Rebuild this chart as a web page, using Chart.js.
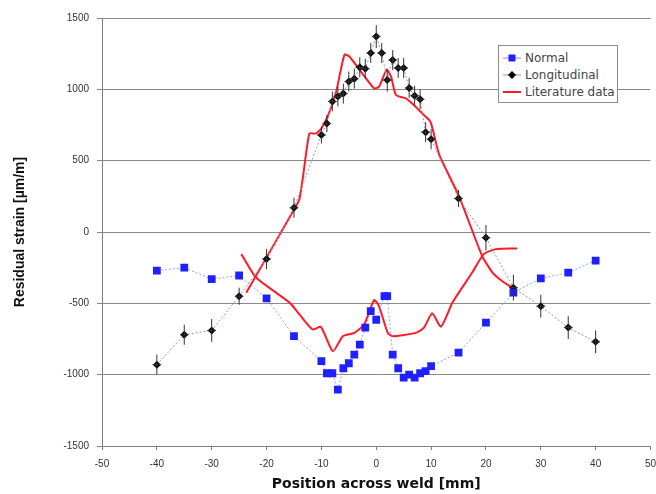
<!DOCTYPE html>
<html>
<head>
<meta charset="utf-8">
<script src="https://cdn.jsdelivr.net/npm/chart.js@4.4.1/dist/chart.umd.min.js"></script>
<style>
  body { margin: 0; background: #fff; }
  #wrap { position: relative; width: 656px; height: 494px; }
  #legend {
    position: absolute; left: 498px; top: 45px; width: 120px; height: 58px;
    box-sizing: border-box; background: #fff; border: 1px solid #8c8c8c;
    font: 12px "DejaVu Sans", sans-serif; color: #444; padding-top: 3px;
  }
  .item { display: flex; align-items: center; height: 17px; white-space: nowrap; }
  .item svg { margin: 0 4px 0 4px; }
</style>
</head>
<body>
<div id="wrap">
  <canvas id="chart" width="656" height="494"></canvas>
  <div id="legend">
    <div class="item">
      <svg width="18" height="10"><line x1="0" y1="5" x2="18" y2="5" stroke="#8d93ff" stroke-width="1"/><rect x="5.5" y="1.5" width="7" height="7" fill="#1f1fff"/></svg>
      <span>Normal</span>
    </div>
    <div class="item">
      <svg width="18" height="10"><line x1="0" y1="5" x2="18" y2="5" stroke="#999" stroke-width="1"/><polygon points="9,1 13,5 9,9 5,5" fill="#000"/></svg>
      <span>Longitudinal</span>
    </div>
    <div class="item">
      <svg width="18" height="10"><line x1="0" y1="5" x2="18" y2="5" stroke="#ff1a2a" stroke-width="2"/></svg>
      <span>Literature data</span>
    </div>
  </div>
</div>
<script>
// Normal strain (blue squares)
const normalX = [-40, -35, -30, -25, -20, -15, -10, -9, -8, -7, -6, -5, -4, -3, -2, -1, 0, 1.5, 2, 3, 4, 5, 6, 7, 8, 9, 10, 15, 20, 25, 30, 35, 40];
const normalY = [-270, -250, -330, -305, -465, -730, -905, -990, -990, -1105, -955, -920, -860, -790, -670, -555, -615, -450, -450, -860, -955, -1020, -1000, -1020, -990, -975, -940, -845, -635, -425, -325, -285, -200];

// Longitudinal strain (black diamonds with error bars)
const longX = [-40, -35, -30, -25, -20, -15, -10, -9, -8, -7, -6, -5, -4, -3, -2, -1, 0, 1, 2, 3, 4, 5, 6, 7, 8, 9, 10, 15, 20, 25, 30, 35, 40];
const longY = [-930, -720, -690, -450, -190, 170, 680, 760, 915, 950, 970, 1055, 1075, 1155, 1145, 1255, 1370, 1255, 1065, 1205, 1150, 1150, 1010, 955, 930, 700, 650, 235, -40, -390, -520, -670, -770];
const longErrY = [70, 70, 80, 60, 70, 70, 60, 60, 70, 70, 70, 70, 70, 70, 70, 70, 80, 70, 80, 70, 70, 70, 70, 70, 70, 70, 70, 60, 90, 90, 80, 80, 80];
const longErrX = 0.8;

// Literature data, two curves
const litUpX = [-23.7, -16, -14, -12.2, -11, -10, -8.5, -7.3, -5.8, -4.9, -0.4, 0.5, 1.9, 2.7, 3.6, 5.4, 6.9, 8.7, 9.9, 11.5, 15.1, 19.3, 21.2, 23, 24.8];
const litUpY = [-425, 90, 232, 690, 690, 725, 843, 984, 1242, 1230, 1007, 1019, 1136, 1089, 960, 937, 889, 819, 772, 540, 250, -167, -284, -345, -390];
const litLoX = [-24.6, -21.9, -15.8, -14, -11.6, -10.1, -7.9, -6.1, -4, -2.2, -0.4, 0.5, 2.1, 3, 7.2, 8.7, 10.2, 11.8, 13.9, 17.5, 19.6, 21.8, 25.7];
const litLoY = [-155, -319, -495, -577, -683, -664, -836, -730, -707, -648, -477, -519, -707, -730, -707, -671, -570, -664, -495, -284, -155, -120, -115];

const pts = (xs, ys) => xs.map((x, i) => ({ x: x, y: ys[i] }));

// vertical + horizontal error bars on the longitudinal series
const errorBars = {
  id: 'errorBars',
  afterDatasetsDraw(chart) {
    const xs = chart.scales.x, ys = chart.scales.y, c = chart.ctx;
    c.save();
    c.strokeStyle = '#333';
    c.lineWidth = 1;
    longX.forEach((x, i) => {
      const px = xs.getPixelForValue(x);
      const py = ys.getPixelForValue(longY[i]);
      c.beginPath();
      c.moveTo(px, ys.getPixelForValue(longY[i] + longErrY[i]));
      c.lineTo(px, ys.getPixelForValue(longY[i] - longErrY[i]));
      c.moveTo(xs.getPixelForValue(x - longErrX), py);
      c.lineTo(xs.getPixelForValue(x + longErrX), py);
      c.stroke();
    });
    c.restore();
  }
};

const tickFont = { family: '"Liberation Sans", Arial, sans-serif', size: 10 };
const plainTick = v => String(v);

new Chart(document.getElementById('chart'), {
  type: 'scatter',
  data: {
    datasets: [
      {
        label: 'Normal',
        data: pts(normalX, normalY),
        showLine: true,
        borderColor: 'rgba(120,130,255,0.8)',
        borderWidth: 1,
        borderDash: [2, 2],
        pointStyle: 'rect',
        pointRadius: 5.5,
        pointBackgroundColor: '#1f1fff',
        pointBorderColor: '#1f1fff',
        pointBorderWidth: 0,
        order: 0
      },
      {
        label: 'Longitudinal',
        data: pts(longX, longY),
        showLine: true,
        borderColor: '#9a9a9a',
        borderWidth: 1,
        borderDash: [2, 2],
        pointStyle: 'rectRot',
        pointRadius: 4,
        pointBackgroundColor: '#000',
        pointBorderColor: '#000',
        pointBorderWidth: 0,
        order: 1
      },
      {
        label: 'Literature data',
        data: pts(litUpX, litUpY),
        showLine: true,
        borderColor: '#ff1a2a',
        borderWidth: 2,
        pointRadius: 0,
        tension: 0.2,
        order: 2
      },
      {
        label: 'Literature data (2)',
        data: pts(litLoX, litLoY),
        showLine: true,
        borderColor: '#ff1a2a',
        borderWidth: 2,
        pointRadius: 0,
        tension: 0.2,
        order: 2
      }
    ]
  },
  options: {
    responsive: false,
    animation: false,
    layout: { padding: { top: 18, right: 5, left: 0, bottom: 0 } },
    plugins: {
      legend: { display: false },
      tooltip: { enabled: false }
    },
    scales: {
      x: {
        type: 'linear',
        min: -50,
        max: 50,
        ticks: { stepSize: 10, font: tickFont, color: '#333', padding: 8, callback: plainTick },
        grid: { drawOnChartArea: false, tickLength: 4, color: '#808080' },
        border: { color: '#808080' },
        title: {
          display: true,
          text: 'Position across weld [mm]',
          color: '#111',
          font: { family: '"DejaVu Sans", sans-serif', size: 14, weight: 'bold' },
          padding: { top: 0, bottom: 1 }
        },
        afterFit(s) { s.height = 48; s.paddingLeft = 0; s.paddingRight = 0; }
      },
      y: {
        min: -1500,
        max: 1500,
        ticks: { stepSize: 500, font: tickFont, color: '#333', padding: 8, callback: plainTick },
        grid: { color: '#8a8a8a', tickLength: 5 },
        border: { color: '#808080' },
        title: {
          display: true,
          text: 'Residual strain [µm/m]',
          color: '#111',
          font: { family: '"Liberation Sans", Arial, sans-serif', size: 14, weight: 'bold' },
          padding: { top: 12, bottom: 0 }
        },
        afterFit(s) { s.width = 102; s.paddingTop = 0; s.paddingBottom = 0; }
      }
    }
  },
  plugins: [errorBars]
});
</script>
</body>
</html>
